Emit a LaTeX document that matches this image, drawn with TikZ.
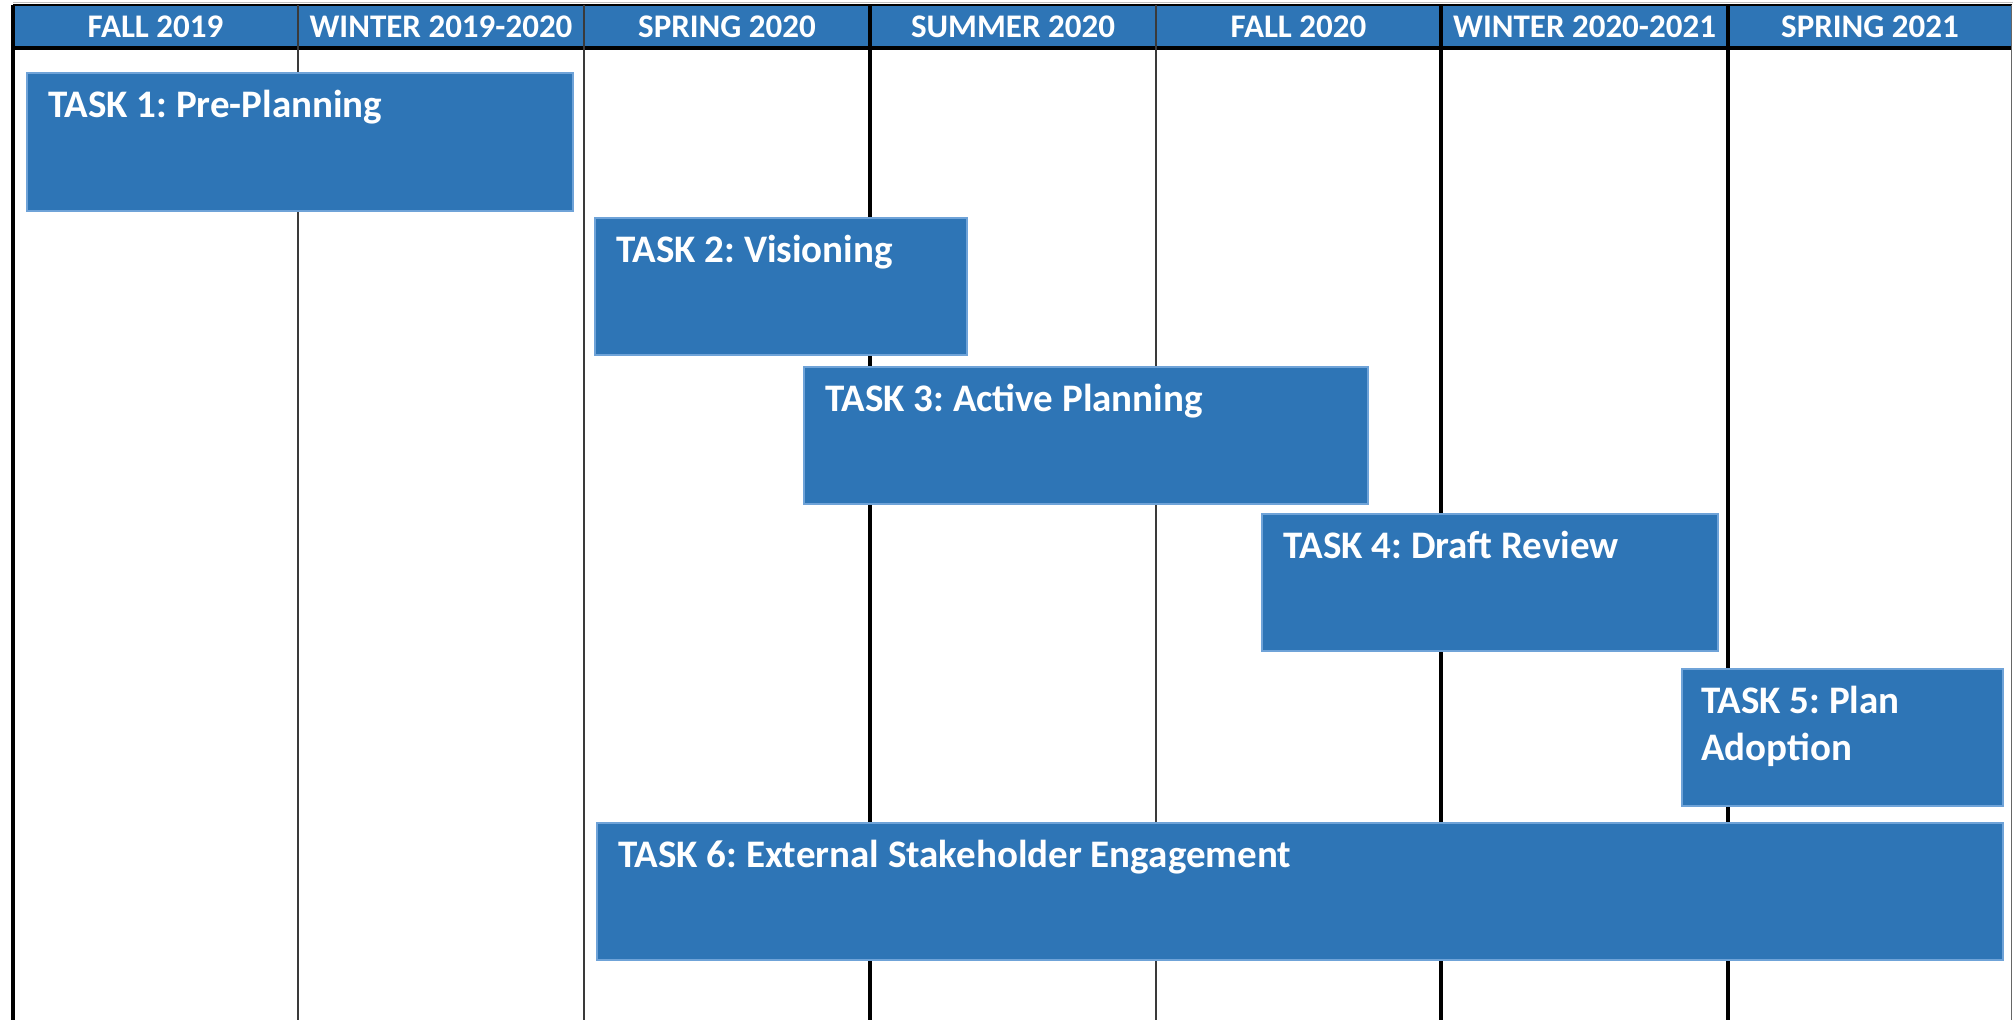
\documentclass[tikz,border=0pt]{standalone}
\usepackage{fontspec}
\setmainfont{Carlito}
\usetikzlibrary{calc}
\frenchspacing
\definecolor{hdrblue}{HTML}{2E75B6}
\definecolor{boxblue}{HTML}{2E75B6}
\definecolor{boxedge}{HTML}{6FA3D8}
\definecolor{thingrey}{HTML}{3A3A3A}
\tikzset{
  taskbox/.style={rectangle, anchor=north west, fill=boxblue, draw=boxedge, line width=1.2pt, outer sep=0pt, inner sep=0pt},
  tasktext/.style={anchor=base west, text=white, font=\fontsize{39}{46}\selectfont\bfseries, inner sep=0pt},
  hdrtext/.style={anchor=base, text=white, font=\fontsize{33}{38}\selectfont\bfseries, inner sep=0pt},
  thinrule/.style={draw=thingrey, line width=2pt},
  thickrule/.style={draw=black, line width=3.6pt}
}
\begin{document}
\begin{tikzpicture}[x=1pt,y=-1pt]
\useasboundingbox (0,0) rectangle (2013,1020);
\fill[white] (0,0) rectangle (2013,1020);
% faint line above header
\draw[draw=black!25, line width=1pt] (13,2.5) -- (2013,2.5);
% header band
\node[rectangle, anchor=north west, fill=hdrblue, minimum width=1999pt, minimum height=43pt, inner sep=0pt, outer sep=0pt] (hdr) at (13,5) {};
\draw[black, line width=1.5pt] (hdr.north west) -- (hdr.north east);
\draw[black, line width=3.4pt] (hdr.south west) -- (hdr.south east);
% vertical rules
\coordinate (c0) at (13,5);
\coordinate (c1) at (298,5);
\coordinate (c2) at (584,5);
\coordinate (c3) at (870,5);
\coordinate (c4) at (1156,5);
\coordinate (c5) at (1441,5);
\coordinate (c6) at (1728,5);
\coordinate (c7) at (2011.5,5);
\draw[black, line width=3.2pt] (c0) -- (c0 |- 0,1020);
\draw[thinrule] (c1) -- (c1 |- 0,1020);
\draw[thinrule] (c2) -- (c2 |- 0,1020);
\draw[thickrule] (c3) -- (c3 |- 0,1020);
\draw[thinrule] (c4) -- (c4 |- 0,1020);
\draw[thickrule] (c5) -- (c5 |- 0,1020);
\draw[thickrule] (c6) -- (c6 |- 0,1020);
\draw[draw=black!60, line width=1.5pt] (c7) -- (c7 |- 0,1020);
% header labels
\node[hdrtext] (h1) at (155.5,37) {FALL 2019};
\node[hdrtext] (h2) at (441,37) {WINTER 2019-2020};
\node[hdrtext] (h3) at (727,37) {SPRING 2020};
\node[hdrtext] (h4) at (1013,37) {SUMMER 2020};
\node[hdrtext] (h5) at (1298.5,37) {FALL 2020};
\node[hdrtext] (h6) at (1584.5,37) {WINTER 2020-2021};
\node[hdrtext] (h7) at (1870,37) {SPRING 2021};
% task boxes
\node[taskbox, minimum width=546pt, minimum height=138pt] (t1) at (27,73) {};
\node[taskbox, minimum width=372pt, minimum height=137pt] (t2) at (595,218) {};
\node[taskbox, minimum width=564pt, minimum height=137pt] (t3) at (804,367) {};
\node[taskbox, minimum width=456pt, minimum height=137pt] (t4) at (1262,514) {};
\node[taskbox, minimum width=321pt, minimum height=137pt] (t5) at (1682,669) {};
\node[taskbox, minimum width=1406pt, minimum height=137pt] (t6) at (597,823) {};
% task labels
\node[tasktext] (l1) at ($(t1.north west)+(21,44)$) {TASK 1: Pre-Planning};
\node[tasktext] (l2) at ($(t2.north west)+(21,44)$) {TASK 2: Visioning};
\node[tasktext] (l3) at ($(t3.north west)+(21,44)$) {TASK 3: Active Planning};
\node[tasktext] (l4) at ($(t4.north west)+(21,44)$) {TASK 4: Draft Review};
\node[tasktext] (l5) at ($(t5.north west)+(19,44)$) {TASK 5: Plan};
\node[tasktext] (l5b) at ($(t5.north west)+(19,91)$) {Adoption};
\node[tasktext] (l6) at ($(t6.north west)+(21,44)$) {TASK 6: External Stakeholder Engagement};
\end{tikzpicture}
\end{document}
